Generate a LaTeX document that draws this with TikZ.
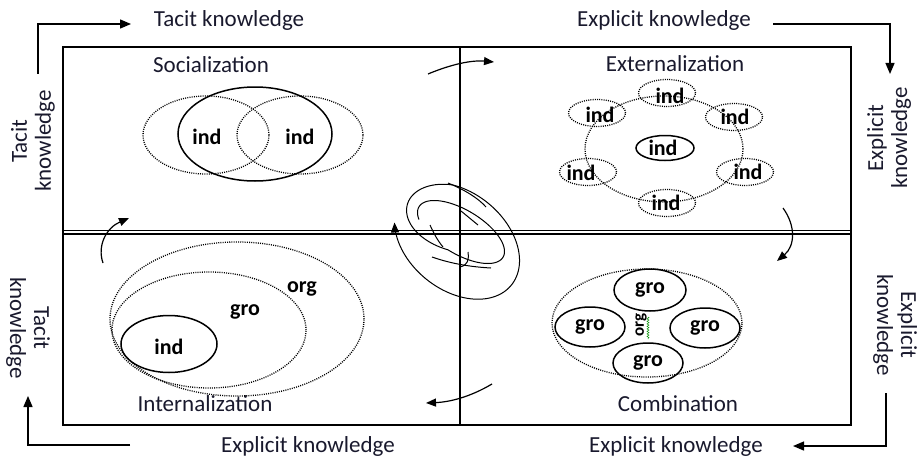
\documentclass[tikz,border=0pt]{standalone}
\usepackage{fontspec}
\setmainfont{Carlito}
\usetikzlibrary{arrows.meta,shapes.geometric,decorations.pathmorphing}
\definecolor{ink}{RGB}{25,25,45}
\begin{document}
\begin{tikzpicture}[x=1pt,y=-1pt,
  declare function={sw(\u)=min(1,max(0,(\u-0.42)/0.2));},
  caption/.style={font=\fontsize{23}{24}\selectfont, text=ink, inner sep=0pt, align=center},
  unit/.style={font=\bfseries\fontsize{22}{24}\selectfont, text=black, inner sep=0pt},
  dotell/.style={ellipse, draw, line width=1.3pt, dash pattern=on 1pt off 1.2pt, inner sep=0pt},
  solidell/.style={ellipse, draw, line width=1.5pt, inner sep=0pt},
  flow/.style={line width=1.3pt, -{Triangle[length=11pt,width=9pt]}},
  turn/.style={line width=1.2pt, -{Triangle[length=10pt,width=8pt]}},
  swirl/.style={line width=1pt}]
\useasboundingbox (0,0) rectangle (918,460);

% frame and quadrant dividers
\draw[line width=1.6pt] (63,47) rectangle (851,425);
\draw[line width=1.6pt] (460,47) -- (460,425);
\draw[line width=1.6pt] (63,230.5) -- (851,230.5);
\draw[line width=1.2pt] (63,234) -- (851,234);

% outer captions
\node[caption] (tTop) at (229,20) {Tacit knowledge};
\node[caption] (eTop) at (664,20) {Explicit knowledge};
\node[caption] (eBotL) at (308,446) {Explicit knowledge};
\node[caption] (eBotR) at (676,446) {Explicit knowledge};
\node[caption, rotate=90] (tLeftU) at (33,141) {Tacit\\knowledge};
\node[caption, rotate=90] (eRightU) at (889,138) {Explicit\\knowledge};
\node[caption, rotate=-90] (tLeftD) at (28,328) {Tacit\\knowledge};
\node[caption, rotate=-90] (eRightD) at (895,325) {Explicit\\knowledge};

% corner arrows
\coordinate (c1a) at (38,74);  \coordinate (c1b) at (131,24);
\coordinate (c2a) at (773,24); \coordinate (c2b) at (890,74);
\coordinate (c3a) at (886,393); \coordinate (c3b) at (793,446);
\coordinate (c4a) at (130,445); \coordinate (c4b) at (28,396);
\draw[flow] (c1a) |- (c1b);
\draw[flow] (c2a) -| (c2b);
\draw[flow] (c3a) |- (c3b);
\draw[flow] (c4a) -| (c4b);

% quadrant titles
\node[caption] (qS) at (211,65) {Socialization};
\node[caption] (qE) at (675,64) {Externalization};
\node[caption] (qI) at (205,404) {Internalization};
\node[caption] (qC) at (678,404) {Combination};

% socialization
\node[solidell, minimum width=154pt, minimum height=94pt] (sShared) at (255,134) {};
\node[dotell, minimum width=126pt, minimum height=78pt] (sA) at (206,135) {};
\node[dotell, minimum width=126pt, minimum height=78pt] (sB) at (300,135) {};
\node[unit] (sAl) at (207,137) {ind};
\node[unit] (sBl) at (300,137) {ind};

% externalization
\node[dotell, minimum width=158pt, minimum height=106pt] (eRing) at (664,149) {};
\node[solidell, minimum width=58pt, minimum height=25pt] (eMid) at (665,148) {};
\node[unit] (eMidl) at (663,148) {ind};
\foreach \n/\cx/\cy/\lx/\ly in {eT/667/93/670/96, eUL/597/113/600/115, eUR/734/117/735/117,
    eLL/588/172/581/173, eLR/745/172/748/172, eB/667/203/666/203}{
  \node[dotell, minimum width=57pt, minimum height=27pt] (\n) at (\cx,\cy) {};
  \node[unit] (\n l) at (\lx,\ly) {ind};
}

% internalization
\node[dotell, minimum width=254pt, minimum height=154pt] (iOrg) at (237,319) {};
\node[dotell, minimum width=194pt, minimum height=116pt] (iGro) at (209,330) {};
\node[solidell, minimum width=96pt, minimum height=57pt] (iInd) at (169,344) {};
\node[unit] (iOrgl) at (302,289) {org};
\node[unit] (iGrol) at (245,312) {gro};
\node[unit] (iIndl) at (169,347) {ind};

% combination
\node[dotell, minimum width=190pt, minimum height=108pt] (cOrg) at (647,323) {};
\node[solidell, minimum width=72pt, minimum height=42pt] (cT) at (650,290) {};
\node[solidell, minimum width=70pt, minimum height=40pt] (cL) at (590,327) {};
\node[solidell, minimum width=70pt, minimum height=40pt] (cR) at (705,328) {};
\node[solidell, minimum width=70pt, minimum height=40pt] (cB) at (648,363) {};
\node[unit] (cTl) at (650,290) {gro};
\node[unit] (cLl) at (590,327) {gro};
\node[unit] (cRl) at (705,328) {gro};
\node[unit] (cBl) at (648,363) {gro};
\node[unit, font=\bfseries\fontsize{17}{18}\selectfont, rotate=90] (cOrgl) at (641,325) {org};
\draw[green!55!black, line width=0.5pt, decorate,
      decoration={zigzag, amplitude=1pt, segment length=2.5pt}] (648,317) -- (648,339);

% turning arrows between the quadrants
\coordinate (aT0) at (428,74);  \coordinate (aT1) at (494,62);
\coordinate (aR0) at (783,208); \coordinate (aR1) at (777,261);
\coordinate (aB0) at (492,384); \coordinate (aB1) at (426,403);
\coordinate (aL0) at (103,263); \coordinate (aL1) at (129,218);
\draw[turn] (aT0) .. controls (452,64) and (472,60) .. (aT1);
\draw[turn] (aR0) .. controls (796,226) and (795,246) .. (aR1);
\draw[turn] (aB0) .. controls (470,397) and (450,402) .. (aB1);
\draw[turn] (aL0) .. controls (97,246) and (106,228) .. (aL1);

% knowledge spiral at the centre: a narrow inner loop widening into a broad outer loop
\draw[swirl, -{Triangle[length=10pt,width=8pt]}]
  plot[domain=0:1, samples=220, variable=\u]
    ({(461-4*sw(\u)) + (49+21*sw(\u))*cos(-570+720*\u)*cos(31+8*sw(\u))
                     - (22+27*sw(\u))*sin(-570+720*\u)*sin(31+8*sw(\u))},
     {(232+9*sw(\u)) + (49+21*sw(\u))*cos(-570+720*\u)*sin(31+8*sw(\u))
                     + (22+27*sw(\u))*sin(-570+720*\u)*cos(31+8*sw(\u))});
\draw[swirl] (448,183) .. controls (465,190) and (478,198) .. (486,207);
\draw[swirl] (461,211) -- (478,225);
\draw[swirl] (430,225) .. controls (434,234) and (438,241) .. (443,247);
\draw[swirl] (432,257) .. controls (452,264) and (472,267) .. (491,268);
\draw[swirl] (468,252) .. controls (469,260) and (468,265) .. (460,267);
\end{tikzpicture}
\end{document}
